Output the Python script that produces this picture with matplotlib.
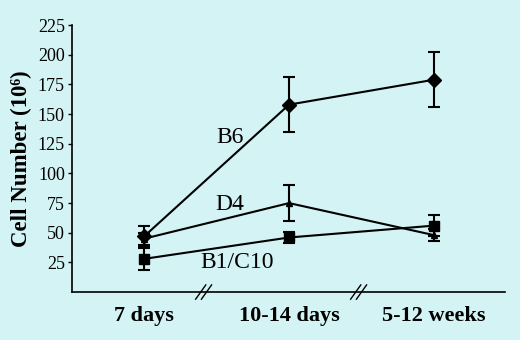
import matplotlib
matplotlib.use('Agg')
import matplotlib.pyplot as plt

# time points (categorical x axis)
periods = ['7 days', '10-14 days', '5-12 weeks']

# cell numbers (10^6) and error bars
b6_mean = [47, 158, 179]
b6_err = [9, 23, 23]
d4_mean = [45, 75, 48]
d4_err = [5, 15, 5]
b1_mean = [28, 46, 56]
b1_err = [9, 5, 9]

series_labels = ['B6', 'D4', 'B1/C10']
yticks = [25, 50, 75, 100, 125, 150, 175, 200, 225]

BG = '#d4f3f5'
SERIF = 'Liberation Serif'

fig = plt.figure(figsize=(5.2, 3.4), dpi=100, facecolor=BG)
ax = fig.add_axes([0.138, 0.141, 0.833, 0.785], facecolor=BG)

x = list(range(len(periods)))
style = dict(color='black', lw=1.5, elinewidth=1.5, capsize=4.5, capthick=1.5, ecolor='black')
ax.errorbar(x, b6_mean, yerr=b6_err, marker='D', ms=7, **style)
ax.errorbar(x, d4_mean, yerr=d4_err, marker='^', ms=4, **style)
ax.errorbar(x, b1_mean, yerr=b1_err, marker='s', ms=7, **style)

# series labels next to lines
ax.text(0.59, 130, series_labels[0], fontsize=17, family=SERIF, ha='center', va='center')
ax.text(0.59, 74, series_labels[1], fontsize=17, family=SERIF, ha='center', va='center')
ax.text(0.64, 25, series_labels[2], fontsize=17, family=SERIF, ha='center', va='center')

ax.set_xlim(-0.5, 2.49)
ax.set_ylim(0, 225)
ax.set_yticks(yticks)
ax.set_yticklabels([str(t) for t in yticks], fontsize=13, family=SERIF)
ax.set_xticks(x)
ax.set_xticklabels(periods, fontsize=16, family=SERIF, fontweight='bold')
ax.tick_params(axis='x', length=0, pad=10)
ax.tick_params(axis='y', length=3, width=1, pad=2)
ax.set_ylabel('Cell Number (10\u2076)', fontsize=16.5, family=SERIF, fontweight='bold', labelpad=4)

for side in ['top', 'right']:
    ax.spines[side].set_visible(False)
for side in ['left', 'bottom']:
    ax.spines[side].set_linewidth(1.2)

# axis break marks on the x axis
for bx in [0.41, 1.48]:
    for off in [-0.02, 0.02]:
        ax.plot([bx + off - 0.035, bx + off + 0.035], [-6, 6], color='black', lw=1,
                clip_on=False)

fig.savefig('out.png', dpi=100, facecolor=BG)
